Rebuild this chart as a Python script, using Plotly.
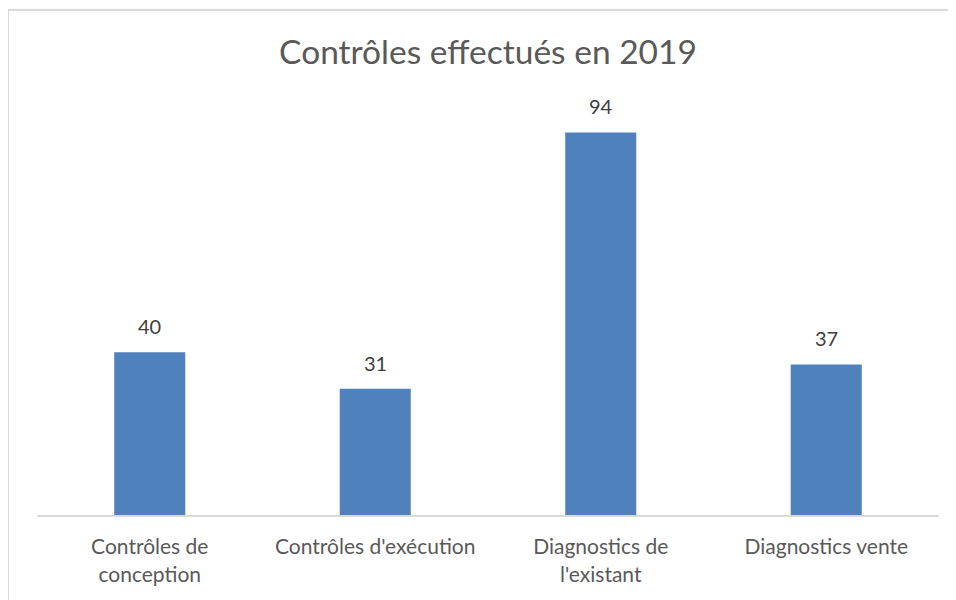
import plotly.graph_objects as go

categories = ["Contrôles de<br>conception", "Contrôles d'exécution", "Diagnostics de<br>l'existant", "Diagnostics vente"]
values = [40, 31, 94, 37]
title_text = "Contrôles effectués en 2019"

FONT = "Lato, Carlito, Calibri, sans-serif"

W, H = 948, 592  # page body adds an 8px margin

fig = go.Figure()
fig.add_trace(go.Bar(
    x=categories, y=values,
    marker=dict(color="#4F81BD", line=dict(width=0)),
    width=0.315,
    hoverinfo="x+y",
))

for c, v in zip(categories, values):
    fig.add_annotation(x=c, y=v, text=str(v), showarrow=False,
                       yanchor="bottom", yshift=12,
                       font=dict(family=FONT, size=20, color="#404040"))

# chart-area frame
fig.add_shape(type="rect", xref="paper", yref="paper",
              x0=-0.0322, x1=1.2, y0=-0.4, y1=1.2408,
              fillcolor="white", line=dict(color="#D9D9D9", width=2), layer="below")

fig.update_layout(
    width=W, height=H,
    margin=dict(l=29, r=17, t=100, b=85),
    paper_bgcolor="#FEFCF9",
    plot_bgcolor="white",
    showlegend=False,
    title=dict(text=title_text, x=0.5, xref="paper", y=1 - 44 / H, yanchor="middle",
               font=dict(family=FONT, size=33.5, color="#595959")),
    xaxis=dict(range=[-0.5, 3.5], showline=True, linecolor="#D9D9D9", linewidth=2,
               ticks="", showgrid=False, zeroline=False,
               tickfont=dict(family=FONT, size=21, color="#595959"),
               ticklabelstandoff=12),
    yaxis=dict(range=[0, 100], visible=False, showgrid=False, zeroline=False),
)

fig.write_html("out.html")
